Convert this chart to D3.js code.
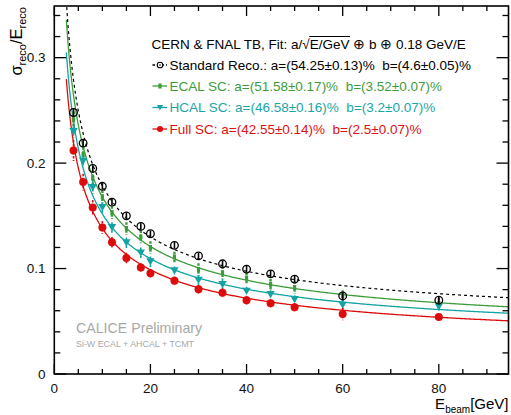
<!DOCTYPE html>
<html><head><meta charset="utf-8">
<script src="https://cdn.jsdelivr.net/npm/d3@7"></script>
<style>
html,body{margin:0;padding:0;background:#fff;}
svg{display:block;font-family:"Liberation Sans",Arial,Helvetica,sans-serif;}
text{white-space:pre;}
</style></head>
<body>
<svg id="c" width="511" height="415"></svg>
<script>
// ---- data ----
const energies = [4,6,8,10,12,15,18,20,25,30,35,40,45,50,60,80];
const stdReco  = [0.248,0.219,0.195,0.178,0.163,0.150,0.140,0.133,0.122,0.112,0.1045,0.0995,0.095,0.090,0.074,0.070];
const ecalSC   = [0.241,0.208,0.186,0.168,0.153,0.138,0.130,0.120,0.111,0.099,0.096,0.091,0.085,0.082,0.0745,0.067];
const hcalSC   = [0.230,0.202,0.177,0.158,0.139,0.1245,0.115,0.1065,0.098,0.089,0.085,0.0787,0.0755,0.0708,0.0654,0.0638];
const fullSC   = [0.212,0.182,0.158,0.139,0.125,0.110,0.101,0.0955,0.0885,0.0803,0.0771,0.0699,0.067,0.0632,0.0569,0.054];
const stdErr   = [0.004,0.003,0.003,0.003,0.003,0.003,0.003,0.003,0.003,0.003,0.003,0.003,0.003,0.003,0.003,0.003];
const ecalErr  = [0.008,0.007,0.007,0.006,0.006,0.006,0.006,0.006,0.005,0.006,0.006,0.005,0.005,0.006,0.005,0.005];
const hcalErr  = [0.006,0.006,0.006,0.005,0.005,0.005,0.005,0.005,0.004,0.005,0.005,0.004,0.004,0.004,0.005,0.004];
const fullErr  = [0.010,0.008,0.007,0.006,0.005,0.005,0.004,0.004,0.004,0.004,0.004,0.004,0.004,0.004,0.006,0.003];
const seriesNames = ["Standard Reco.: a=(54.25\u00b10.13)%  b=(4.6\u00b10.05)%",
                     "ECAL SC: a=(51.58\u00b10.17)%  b=(3.52\u00b10.07)%",
                     "HCAL SC: a=(46.58\u00b10.16)%  b=(3.2\u00b10.07)%",
                     "Full SC: a=(42.55\u00b10.14)%  b=(2.5\u00b10.07)%"];
const fitA = [0.5425,0.5158,0.4658,0.4255];
const fitB = [0.046,0.0352,0.032,0.025];
const fitC = 0.18;
const xTicks = [0,20,40,60,80];
const yTicks = [0,0.1,0.2,0.3];
const xTickLabels = ["0","20","40","60","80"];
const yTickLabels = ["0","0.1","0.2","0.3"];

// ---- styles ----
const colors = ["#000000","#3c9c3c","#12a3a3","#dd0b0b"];
const textColors = ["#000000","#3c9c3c","#1aa6a6","#dd1111"];
const values = [stdReco, ecalSC, hcalSC, fullSC];
const errs = [stdErr, ecalErr, hcalErr, fullErr];

const svg = d3.select("#c");
const L = 54.3, R = 508.5, T = 6, B = 374;
const x = d3.scaleLinear().domain([0,94.5]).range([L,R]);
const y = d3.scaleLinear().domain([0,0.349]).range([B,T]);

svg.append("clipPath").attr("id","clip").append("rect")
  .attr("x",L).attr("y",T).attr("width",R-L).attr("height",B-T);

// fit curves
const fitE = d3.range(2.5, 94.6, 0.25);
const line = d3.line().x(d=>x(d[0])).y(d=>y(d[1]));
const gCurves = svg.append("g").attr("clip-path","url(#clip)");
[1,2,3,0].forEach(i=>{
  const pts = fitE.map(E=>[E, Math.sqrt(fitA[i]*fitA[i]/E + fitB[i]*fitB[i] + fitC*fitC/(E*E))]);
  gCurves.append("path").attr("d", line(pts)).attr("fill","none")
    .attr("stroke", colors[i]).attr("stroke-width", i===0?1.2:1.3)
    .attr("stroke-dasharray", i===0?"3,3":null);
});

// markers
function drawMarker(g, i, cx, cy, s){
  s = s||1;
  if(i===0){
    g.append("circle").attr("cx",cx).attr("cy",cy).attr("r",3.8*s)
      .attr("fill","none").attr("stroke","#000").attr("stroke-width",1.3);
  } else if(i===1){
    g.append("rect").attr("x",cx-1.6).attr("y",cy-2.5).attr("width",3.2).attr("height",5).attr("fill",colors[1]);
  } else if(i===2){
    const h=4.2*s;
    g.append("path").attr("d",`M${cx-h},${cy-h*0.8}L${cx+h},${cy-h*0.8}L${cx},${cy+h*0.9}Z`).attr("fill",colors[2]);
  } else {
    g.append("circle").attr("cx",cx).attr("cy",cy).attr("r",4*s).attr("fill",colors[3]);
  }
}

const gPts = svg.append("g");
[1,2,3,0].forEach(i=>{
  energies.forEach((E,k)=>{
    const cx = x(E), cy = y(values[i][k]);
    const e = errs[i][k];
    gPts.append("line").attr("x1",cx).attr("x2",cx)
      .attr("y1",y(values[i][k]+e)).attr("y2",y(values[i][k]-e))
      .attr("stroke",colors[i]).attr("stroke-width", i===1?2.4:1.6)
      .attr("stroke-dasharray", i===0?null:"2.5,1.5");
    drawMarker(gPts, i, cx, cy);
  });
});

// frame and ticks
const axG = svg.append("g").attr("stroke","#000").attr("stroke-width",1.3);
axG.append("rect").attr("x",L).attr("y",T).attr("width",R-L).attr("height",B-T).attr("fill","none").attr("stroke-width",1.6);
d3.range(0,94.5,5).forEach(v=>{
  const major = v%20===0;
  const len = major?10:5;
  axG.append("line").attr("x1",x(v)).attr("x2",x(v)).attr("y1",B).attr("y2",B-len);
  axG.append("line").attr("x1",x(v)).attr("x2",x(v)).attr("y1",T).attr("y2",T+len);
});
d3.range(0,0.349,0.02).forEach((v,k)=>{
  const major = k%5===0;
  const len = major?12:6;
  axG.append("line").attr("x1",L).attr("x2",L+len).attr("y1",y(v)).attr("y2",y(v));
  axG.append("line").attr("x1",R).attr("x2",R-len).attr("y1",y(v)).attr("y2",y(v));
});

// tick labels
const tl = svg.append("g").attr("font-size",13.5).attr("fill","#111");
xTicks.forEach((v,k)=>tl.append("text").attr("x",x(v)).attr("y",393).attr("text-anchor","middle").text(xTickLabels[k]));
yTicks.forEach((v,k)=>tl.append("text").attr("x",45.5).attr("y",y(v)+4.8).attr("text-anchor","end").text(yTickLabels[k]));

// axis titles
const xt = svg.append("text").attr("x",508.5).attr("y",409).attr("text-anchor","end").attr("font-size",15).attr("fill","#000");
xt.append("tspan").text("E");
xt.append("tspan").attr("font-size",10).attr("dy",4).text("beam");
xt.append("tspan").attr("dy",-4).text("[GeV]");

const yt = svg.append("text").attr("transform","translate(22,7) rotate(-90)").attr("text-anchor","end").attr("font-size",16.5).attr("fill","#000");
yt.append("tspan").text("\u03c3");
yt.append("tspan").attr("font-size",11).attr("dy",4).text("reco");
yt.append("tspan").attr("dy",-4).text("/E");
yt.append("tspan").attr("font-size",11).attr("dy",4).text("reco");

// legend
const lg = svg.append("g").attr("font-size",13.5);
const hdr = lg.append("text").attr("x",151.5).attr("y",48.5).attr("fill","#000");
hdr.append("tspan").text("CERN & FNAL TB, Fit: a/");
hdr.append("tspan").text("\u221a");
hdr.append("tspan").text("E/GeV");
hdr.append("tspan").text(" \u2295 b \u2295 0.18 GeV/E");
{
  const n0 = hdr.node();
  const start = n0.getStartPositionOfChar(("CERN & FNAL TB, Fit: a/\u221a").length);
  const end = n0.getEndPositionOfChar(("CERN & FNAL TB, Fit: a/\u221aE/GeV").length-1);
  lg.append("line").attr("x1",start.x-0.5).attr("x2",end.x+0.5).attr("y1",36.5).attr("y2",36.5)
    .attr("stroke","#000").attr("stroke-width",1);
}
const rowY = [65,86,107.5,129];
seriesNames.forEach((name,i)=>{
  const cy = rowY[i];
  lg.append("line").attr("x1",152.5).attr("x2",167).attr("y1",cy).attr("y2",cy)
    .attr("stroke",colors[i]).attr("stroke-width",1.3).attr("stroke-dasharray",i===0?"2.5,2":null);
  if(i===0){
    lg.append("circle").attr("cx",160).attr("cy",cy).attr("r",2.8).attr("fill","#fff").attr("stroke","#000").attr("stroke-width",1.1);
    lg.append("circle").attr("cx",160).attr("cy",cy).attr("r",0.8).attr("fill","#000");
  } else {
    drawMarker(lg, i, 160, cy, 0.75);
  }
  lg.append("text").attr("x",169.5).attr("y",cy+4.8).attr("fill",textColors[i]).text(name);
});

// CALICE text
svg.append("text").attr("x",76).attr("y",332.5).attr("font-size",14.2).attr("fill","#a8a8a8").text("CALICE Preliminary");
svg.append("text").attr("x",76).attr("y",346.5).attr("font-size",8.9).attr("fill","#a8a8a8").text("Si-W ECAL + AHCAL + TCMT");
</script>
</body></html>
